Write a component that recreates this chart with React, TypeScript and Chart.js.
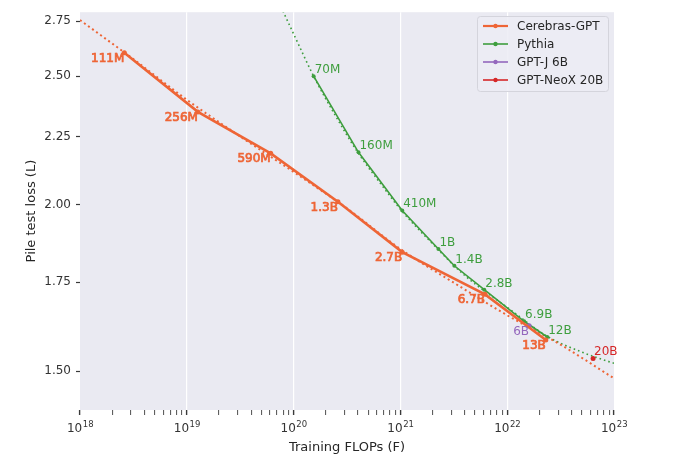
import React, { useEffect, useRef } from "react";
import { Chart, registerables } from "chart.js";

Chart.register(...registerables);

// ---- data ----
const cerebrasLabels = ["111M", "256M", "590M", "1.3B", "2.7B", "6.7B", "13B"];
const cerebrasFlops = [2.6e18, 1.27e19, 6.1e19, 2.6e20, 1.04e21, 6.2e21, 2.3e22];
const cerebrasLoss = [2.604, 2.35, 2.187, 2.011, 1.843, 1.713, 1.583];

const cerebrasFitFlops = [1e18, 3.16e18, 1e19, 3.16e19, 1e20, 3.16e20, 1e21, 3.16e21, 1e22, 3.16e22, 1e23];
const cerebrasFitLoss = [2.755, 2.575, 2.4, 2.252, 2.118, 1.988, 1.853, 1.748, 1.652, 1.57, 1.481];

const pythiaLabels = ["70M", "160M", "410M", "1B", "1.4B", "2.8B", "6.9B", "12B"];
const pythiaFlops = [1.54e20, 4.05e20, 1.04e21, 2.27e21, 3.2e21, 6.1e21, 1.44e22, 2.37e22];
const pythiaLoss = [2.5, 2.191, 1.981, 1.853, 1.8, 1.727, 1.635, 1.591];

const pythiaFitFlops = [7e19, 1e20, 1.54e20, 2.5e20, 4e20, 7e20, 1e21, 2e21, 4e21, 1e22, 2.4e22, 5e22, 1e23];
const pythiaFitLoss = [2.86, 2.69, 2.5, 2.33, 2.19, 2.06, 1.985, 1.87, 1.77, 1.675, 1.592, 1.55, 1.52];

const gptjLabels = ["6B"];
const gptjFlops = [1.6e22];
const gptjLoss = [1.622];

const neoxLabels = ["20B"];
const neoxFlops = [6.37e22];
const neoxLoss = [1.533];

const legendNames = ["Cerebras-GPT", "Pythia", "GPT-J 6B", "GPT-NeoX 20B"];
const yTickValues = [1.5, 1.75, 2.0, 2.25, 2.5, 2.75];
const xDecades = [18, 19, 20, 21, 22, 23];

const ORANGE = "#EE6536";
const GREEN = "#3E9E3E";
const PURPLE = "#9467BD";
const RED = "#D62728";
const FONT = "'DejaVu Sans', 'Liberation Sans', sans-serif";

const isMajor = (v: number) => {
  const l = Math.log10(v);
  return Math.abs(l - Math.round(l)) < 1e-6;
};

const pts = (xs: number[], ys: number[]) => xs.map((x, i) => ({ x, y: ys[i] }));

const bgPlugin = {
  id: "plotBg",
  beforeDraw(chart: any) {
    const { ctx, chartArea } = chart;
    ctx.save();
    ctx.fillStyle = "#EAEAF2";
    ctx.fillRect(chartArea.left, chartArea.top, chartArea.right - chartArea.left, chartArea.bottom - chartArea.top);
    ctx.restore();
  },
};

const labelPlugin = {
  id: "pointLabels",
  afterDatasetsDraw(chart: any) {
    const { ctx } = chart;
    chart.data.datasets.forEach((ds: any, i: number) => {
      if (!ds.pointLabels) return;
      const meta = chart.getDatasetMeta(i);
      ctx.save();
      ctx.font = `12px ${FONT}`;
      ctx.fillStyle = ds.borderColor;
      ctx.strokeStyle = ds.borderColor;
      meta.data.forEach((el: any, j: number) => {
        const t = ds.pointLabels[j];
        if (ds.labelMode === "leftBelow") {
          ctx.textAlign = "right";
          ctx.textBaseline = "top";
          ctx.lineWidth = 0.7;
          ctx.fillText(t, el.x, el.y);
          if (ds.labelBold) ctx.strokeText(t, el.x, el.y);
        } else {
          ctx.textAlign = "left";
          ctx.textBaseline = "alphabetic";
          ctx.fillText(t, el.x + 1, el.y - 3);
        }
      });
      ctx.restore();
    });
  },
};

const xLabelPlugin = {
  id: "xPowLabels",
  afterDraw(chart: any) {
    const { ctx } = chart;
    const xs = chart.scales.x;
    ctx.save();
    ctx.fillStyle = "#333333";
    ctx.textBaseline = "alphabetic";
    ctx.textAlign = "left";
    xDecades.forEach((d) => {
      const px = xs.getPixelForValue(Math.pow(10, d));
      ctx.font = `12px ${FONT}`;
      const wBase = ctx.measureText("10").width;
      ctx.font = `8.5px ${FONT}`;
      const wExp = ctx.measureText(String(d)).width;
      const start = px - (wBase + wExp) / 2;
      ctx.font = `12px ${FONT}`;
      ctx.fillText("10", start, 432);
      ctx.font = `8.5px ${FONT}`;
      ctx.fillText(String(d), start + wBase + 0.5, 427);
    });
    ctx.restore();
  },
};

const legendPlugin = {
  id: "customLegend",
  afterDraw(chart: any) {
    const { ctx } = chart;
    const colors = [ORANGE, GREEN, PURPLE, RED];
    const x0 = 477, y0 = 16, w = 131, h = 75;
    ctx.save();
    ctx.fillStyle = "rgba(236,236,244,0.85)";
    ctx.strokeStyle = "#D4D4DC";
    ctx.lineWidth = 1;
    ctx.beginPath();
    (ctx as any).roundRect ? (ctx as any).roundRect(x0 + 0.5, y0 + 0.5, w, h, 3) : ctx.rect(x0 + 0.5, y0 + 0.5, w, h);
    ctx.fill();
    ctx.stroke();
    legendNames.forEach((name, i) => {
      const y = 26 + i * 18;
      ctx.strokeStyle = colors[i];
      ctx.lineWidth = i === 0 ? 2.2 : 1.6;
      ctx.beginPath();
      ctx.moveTo(483, y);
      ctx.lineTo(508, y);
      ctx.stroke();
      ctx.fillStyle = colors[i];
      ctx.beginPath();
      ctx.arc(495.5, y, 2.2, 0, Math.PI * 2);
      ctx.fill();
      ctx.fillStyle = "#262626";
      ctx.font = `12px ${FONT}`;
      ctx.textAlign = "left";
      ctx.textBaseline = "middle";
      ctx.fillText(name, 517, y + 0.5);
    });
    ctx.restore();
  },
};

export default function App() {
  const ref = useRef<HTMLCanvasElement | null>(null);

  useEffect(() => {
    document.body.style.margin = "0";
    if (!ref.current) return;
    const chart = new Chart(ref.current, {
      type: "line",
      data: {
        datasets: [
          {
            label: legendNames[0],
            data: pts(cerebrasFlops, cerebrasLoss),
            borderColor: ORANGE,
            backgroundColor: ORANGE,
            borderWidth: 2.6,
            pointRadius: 2.5,
            pointBorderWidth: 0,
            pointBackgroundColor: ORANGE,
            tension: 0,
            clip: 0,
            pointLabels: cerebrasLabels,
            labelMode: "leftBelow",
            labelBold: true,
          } as any,
          {
            label: legendNames[2],
            data: pts(gptjFlops, gptjLoss),
            borderColor: PURPLE,
            backgroundColor: PURPLE,
            pointRadius: 2.5,
            pointBorderWidth: 0,
            showLine: false,
            pointLabels: gptjLabels,
            labelMode: "leftBelow",
          } as any,
          {
            label: legendNames[3],
            data: pts(neoxFlops, neoxLoss),
            borderColor: RED,
            backgroundColor: RED,
            pointRadius: 2.5,
            pointBorderWidth: 0,
            showLine: false,
            pointLabels: neoxLabels,
            labelMode: "rightAbove",
          } as any,
          {
            label: legendNames[1],
            data: pts(pythiaFlops, pythiaLoss),
            borderColor: GREEN,
            backgroundColor: GREEN,
            borderWidth: 1.6,
            pointRadius: 2,
            pointBorderWidth: 0,
            tension: 0,
            pointLabels: pythiaLabels,
            labelMode: "rightAbove",
          } as any,
          {
            label: "Cerebras-GPT fit",
            data: pts(cerebrasFitFlops, cerebrasFitLoss),
            borderColor: ORANGE,
            borderWidth: 2,
            borderDash: [2, 3],
            pointRadius: 0,
            cubicInterpolationMode: "monotone",
          } as any,
          {
            label: "Pythia fit",
            data: pts(pythiaFitFlops, pythiaFitLoss),
            borderColor: GREEN,
            borderWidth: 1.6,
            borderDash: [1.6, 3],
            pointRadius: 0,
            cubicInterpolationMode: "monotone",
          } as any,
        ],
      },
      options: {
        animation: false,
        responsive: false,
        layout: { padding: { top: 11, right: 66, left: 0, bottom: 0 } },
        plugins: { legend: { display: false }, tooltip: { enabled: false } },
        scales: {
          x: {
            type: "logarithmic",
            min: 1e18,
            max: 1e23,
            border: { display: false },
            afterBuildTicks: (scale: any) => {
              const t: any[] = [];
              for (let d = 18; d < 23; d++) {
                for (let m = 1; m <= 9; m++) t.push({ value: m * Math.pow(10, d) });
              }
              t.push({ value: 1e23 });
              scale.ticks = t;
            },
            afterFit: (scale: any) => {
              scale.height = 49;
            },
            grid: {
              color: (c: any) => {
                const v = c.tick?.value;
                if (v === undefined) return "rgba(0,0,0,0)";
                if (!isMajor(v) || v <= 1e18 * 1.01 || v >= 1e23 * 0.99) return "rgba(0,0,0,0)";
                return "#FFFFFF";
              },
              lineWidth: 1.2,
              tickColor: "#3a3a3a",
              tickLength: 5,
              tickWidth: (c: any) => (c.tick && isMajor(c.tick.value) ? 1.4 : 0.9),
            },
            ticks: {
              autoSkip: false,
              maxRotation: 0,
              padding: 3,
              color: "#333333",
              font: { family: FONT, size: 12 },
              callback: () => "",
            },
            title: {
              display: true,
              text: "Training FLOPs (F)",
              color: "#262626",
              font: { family: FONT, size: 13 },
              padding: { top: 0, bottom: 4 },
            },
          },
          y: {
            type: "logarithmic",
            min: 1.402,
            max: 2.793,
            border: { display: false },
            afterBuildTicks: (scale: any) => {
              scale.ticks = yTickValues.map((v) => ({ value: v }));
            },
            afterFit: (scale: any) => {
              scale.width = 80;
            },
            grid: {
              color: "rgba(0,0,0,0)",
              tickColor: "#3a3a3a",
              tickLength: 4,
              tickWidth: 1.2,
            },
            ticks: {
              padding: 5,
              color: "#333333",
              font: { family: FONT, size: 12 },
              callback: (v: any) => Number(v).toFixed(2),
            },
            title: {
              display: true,
              text: "Pile test loss (L)",
              color: "#262626",
              font: { family: FONT, size: 13 },
              padding: { top: 24, bottom: 0 },
            },
          },
        },
      } as any,
      plugins: [bgPlugin, labelPlugin, xLabelPlugin, legendPlugin],
    });
    return () => chart.destroy();
  }, []);

  return (
    <div style={{ width: 680, height: 459, background: "#fff" }}>
      <canvas ref={ref} width={680} height={459} style={{ width: 680, height: 459 }} />
    </div>
  );
}
